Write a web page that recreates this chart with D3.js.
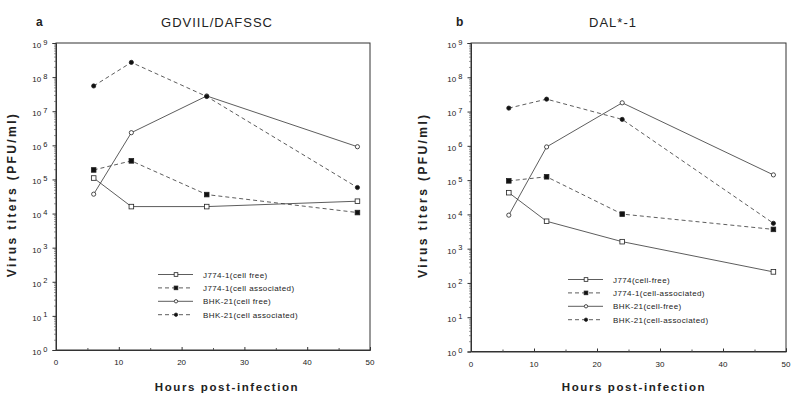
<!DOCTYPE html>
<html><head><meta charset="utf-8">
<script src="https://cdn.jsdelivr.net/npm/d3@7"></script>
<style>
body{margin:0;background:#fff;}
text{font-family:"Liberation Sans",Arial,sans-serif;fill:#222;}
</style></head>
<body><svg id="c" width="800" height="406"></svg>
<script>
const hours = [6, 12, 24, 48];
const seriesNames = ["J774-1 cell free", "J774-1 cell associated", "BHK-21 cell free", "BHK-21 cell associated"];
// Panel a: GDVIIL/DAFSSC
const aJ774Free = [1.1e5, 1.6e4, 1.6e4, 2.3e4];
const aJ774Assoc = [1.9e5, 3.5e5, 3.6e4, 1.07e4];
const aBHKFree = [3.7e4, 2.35e6, 2.8e7, 9.1e5];
const aBHKAssoc = [5.5e7, 2.7e8, 2.7e7, 5.8e4];
// Panel b: DAL*-1
const bJ774Free = [4.3e4, 6.3e3, 1.6e3, 2.1e2];
const bJ774Assoc = [9.5e4, 1.25e5, 1.02e4, 3.65e3];
const bBHKFree = [9.5e3, 9.3e5, 1.8e7, 1.42e5];
const bBHKAssoc = [1.26e7, 2.3e7, 5.9e6, 5.5e3];
const xTicks = [0, 10, 20, 30, 40, 50];
const xMinor = [5, 15, 25, 35, 45];
const yExponents = [0,1,2,3,4,5,6,7,8,9];
const legendA = ["J774-1(cell free)", "J774-1(cell associated)", "BHK-21(cell free)", "BHK-21(cell associated)"];
const legendB = ["J774(cell-free)", "J774-1(cell-associated)", "BHK-21(cell-free)", "BHK-21(cell-associated)"];

const styles = [
  {dash:null, marker:"sq", fill:"#fff"},
  {dash:"4,3", marker:"sq", fill:"#111"},
  {dash:null, marker:"ci", fill:"#fff"},
  {dash:"4,3", marker:"ci", fill:"#111"}
];

const svg = d3.select("#c");

function panel(cfg){
  const g = svg.append("g");
  const x = d3.scaleLinear().domain([0,50]).range([cfg.left, cfg.right]);
  const y = d3.scaleLog().domain([1,1e9]).range([cfg.bottom, cfg.top]);
  g.append("rect").attr("x",cfg.left).attr("y",cfg.top).attr("width",cfg.right-cfg.left).attr("height",cfg.bottom-cfg.top)
    .attr("fill","none").attr("stroke","#333").attr("stroke-width",1);
  const minor = [];
  for(let e=0;e<9;e++) for(let m=2;m<=9;m++) minor.push(m*Math.pow(10,e));
  const ym = g.append("g").attr("transform",`translate(${cfg.left},0)`)
    .call(d3.axisLeft(y).tickValues(minor).tickSize(2).tickFormat(()=>""));
  ym.select(".domain").remove();
  ym.selectAll("line").attr("stroke","#555").attr("stroke-width",0.6);
  const majors = yExponents.map(e=>Math.pow(10,e));
  const ya = g.append("g").attr("transform",`translate(${cfg.left},0)`)
    .call(d3.axisLeft(y).tickValues(majors).tickSize(3.5).tickPadding(5).tickFormat(()=>""));
  ya.select(".domain").attr("stroke","#333");
  ya.selectAll("line").attr("stroke","#333");
  ya.selectAll(".tick text").each(function(d){
    const t = d3.select(this).attr("font-size",8).attr("dy","0.55em");
    t.append("tspan").text("10 ");
    t.append("tspan").attr("dy","-0.45em").attr("font-size",7.5).text(Math.round(Math.log10(d)));
  });
  const xa = g.append("g").attr("transform",`translate(0,${cfg.bottom})`)
    .call(d3.axisTop(x).tickValues(xTicks).tickSize(3).tickFormat(()=>""));
  xa.select(".domain").attr("stroke","#333");
  xa.selectAll("line").attr("stroke","#333");
  g.append("g").attr("transform",`translate(0,${cfg.bottom})`)
    .call(d3.axisTop(x).tickValues(xMinor).tickSize(2).tickFormat(()=>""))
    .call(s=>{s.select(".domain").remove(); s.selectAll("line").attr("stroke","#555");});
  g.selectAll(".xl").data(xTicks).enter().append("text")
    .attr("x",d=>x(d)).attr("y",cfg.bottom+15).attr("text-anchor","middle").attr("font-size",8).text(d=>d);
  g.append("text").attr("x",cfg.letterX).attr("y",26).attr("font-size",12).attr("font-weight","bold").text(cfg.letter);
  g.append("text").attr("x",cfg.titleX).attr("y",27).attr("font-size",13).attr("text-anchor","middle")
    .attr("letter-spacing",1).text(cfg.title);
  g.append("text").attr("transform",`translate(${cfg.ylabX},${(cfg.top+cfg.bottom)/2-2}) rotate(-90)`)
    .attr("text-anchor","middle").attr("font-size",12).attr("font-weight","bold").attr("letter-spacing",2.4)
    .text("Virus titers (PFU/ml)");
  g.append("text").attr("x",cfg.xlabX).attr("y",391).attr("text-anchor","middle").attr("font-size",11.5)
    .attr("font-weight","bold").attr("letter-spacing",1.6).text("Hours post-infection");
  const line = d3.line().x(d=>x(d[0])).y(d=>y(d[1]));
  cfg.data.forEach((vals,i)=>{
    const st = styles[i];
    const pts = hours.map((h,j)=>[h,vals[j]]);
    g.append("path").datum(pts).attr("d",line).attr("fill","none").attr("stroke","#333")
      .attr("stroke-width",0.8).attr("stroke-dasharray",st.dash);
    pts.forEach(p=>drawMarker(g, x(p[0]), y(p[1]), st, 1));
  });
  cfg.legend.forEach((lab,i)=>{
    const st = styles[i];
    const ly = cfg.legY + i*13.4;
    g.append("line").attr("x1",cfg.legX).attr("x2",cfg.legX+35).attr("y1",ly).attr("y2",ly)
      .attr("stroke","#333").attr("stroke-width",0.8).attr("stroke-dasharray",st.dash);
    drawMarker(g, cfg.legX+18, ly, st, 0.8);
    g.append("text").attr("x",cfg.legX+45).attr("y",ly+3).attr("font-size",8).attr("letter-spacing",0.4).text(lab);
  });
}

function drawMarker(g, cx, cy, st, k){
  if(st.marker==="sq"){
    const s = 4.6*k;
    g.append("rect").attr("x",cx-s/2).attr("y",cy-s/2).attr("width",s).attr("height",s)
      .attr("fill",st.fill).attr("stroke","#222").attr("stroke-width",0.8);
  } else {
    g.append("circle").attr("cx",cx).attr("cy",cy).attr("r",2.1*k)
      .attr("fill",st.fill).attr("stroke","#222").attr("stroke-width",0.8);
  }
}

panel({left:56, right:370, top:43, bottom:350, letter:"a", letterX:36, title:"GDVIIL/DAFSSC", titleX:217,
  ylabX:16, xlabX:227, legX:158, legY:274.5, legend:legendA,
  data:[aJ774Free, aJ774Assoc, aBHKFree, aBHKAssoc]});
panel({left:471, right:786, top:43, bottom:351.5, letter:"b", letterX:456, title:"DAL*-1", titleX:613,
  ylabX:427, xlabX:634, legX:568, legY:279.5, legend:legendB,
  data:[bJ774Free, bJ774Assoc, bBHKFree, bBHKAssoc]});
</script></body></html>
